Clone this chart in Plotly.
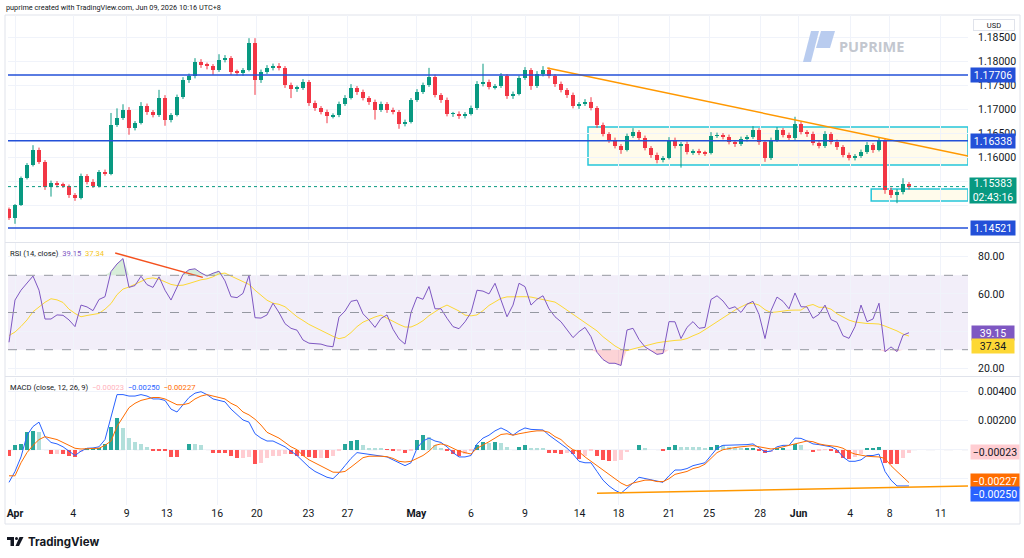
import plotly.graph_objects as go

W, H = 1024, 558

# ---------------- data ----------------
tick_labels = ["<b>Apr</b>", "4", "9", "13", "16", "20", "23", "27", "<b>May</b>", "6",
               "9", "14", "18", "21", "25", "28", "<b>Jun</b>", "4", "8", "11"]
tick_bars = [1.0, 10.7, 19.6, 26.3, 34.7, 41.3, 49.9, 56.4, 67.9, 77.0,
             86.0, 95.1, 101.6, 110.0, 116.7, 125.2, 131.6, 140.2, 146.8, 155.3]

first_open = 1.14917
close = [
    1.14729, 1.15000, 1.15563, 1.15833, 1.16146, 1.15896, 1.15375, 1.15458, 1.15417, 1.15396,
    1.15208, 1.15146, 1.15604, 1.15479, 1.15396, 1.15688, 1.15650, 1.16667, 1.16813, 1.16979,
    1.16604, 1.16708, 1.17063, 1.16938, 1.16875, 1.17229, 1.16771, 1.16875, 1.17250, 1.17604,
    1.17688, 1.17979, 1.17917, 1.17896, 1.17813, 1.18021, 1.18063, 1.17771, 1.17750, 1.17813,
    1.18375, 1.17604, 1.17771, 1.17854, 1.17896, 1.17854, 1.17500, 1.17417, 1.17438, 1.17563,
    1.17125, 1.17021, 1.16938, 1.16854, 1.16870, 1.17104, 1.17229, 1.17438, 1.17354, 1.17229,
    1.17146, 1.16979, 1.17104, 1.16979, 1.16938, 1.16688, 1.16729, 1.17188, 1.17354, 1.17500,
    1.17667, 1.17292, 1.17188, 1.16896, 1.16900, 1.16854, 1.16896, 1.17021, 1.17521, 1.17563,
    1.17458, 1.17479, 1.17688, 1.17271, 1.17313, 1.17646, 1.17813, 1.17479, 1.17729, 1.17813,
    1.17688, 1.17521, 1.17396, 1.17292, 1.17063, 1.17104, 1.17146, 1.17021, 1.16667, 1.16479,
    1.16354, 1.16229, 1.16146, 1.16438, 1.16521, 1.16396, 1.16188, 1.16042, 1.15938, 1.15979,
    1.16354, 1.16229, 1.16271, 1.16104, 1.16120, 1.16090, 1.16083, 1.16438, 1.16458, 1.16417,
    1.16313, 1.16271, 1.16375, 1.16417, 1.16563, 1.16313, 1.15979, 1.16354, 1.16563, 1.16458,
    1.16396, 1.16688, 1.16521, 1.16479, 1.16292, 1.16229, 1.16479, 1.16313, 1.16208, 1.16042,
    1.15979, 1.16021, 1.16104, 1.16250, 1.16146, 1.16354, 1.15313, 1.15208, 1.15271, 1.15438,
    1.15383]

# wick lengths beyond the body, in pips
upper_wick_pips = [
    3, 2, 3, 4, 10, 5, 4, 5, 4, 5,
    3, 4, 5, 4, 6, 4, 5, 25, 20, 12,
    6, 4, 8, 5, 4, 17, 6, 4, 5, 6,
    5, 8, 6, 5, 4, 12, 6, 4, 5, 4,
    10, 10, 5, 6, 5, 6, 4, 5, 5, 6,
    4, 5, 4, 5, 4, 5, 6, 8, 4, 5,
    4, 5, 5, 4, 5, 4, 5, 4, 6, 5,
    19, 5, 4, 5, 4, 5, 4, 5, 6, 38,
    5, 4, 6, 4, 5, 5, 6, 4, 6, 8,
    5, 4, 5, 4, 5, 4, 6, 10, 4, 5,
    4, 5, 4, 5, 8, 4, 5, 4, 5, 4,
    6, 5, 4, 5, 4, 5, 4, 8, 5, 4,
    5, 4, 5, 4, 8, 4, 4, 5, 6, 4,
    5, 15, 5, 4, 5, 4, 6, 4, 5, 4,
    5, 4, 5, 6, 4, 6, 4, 5, 6, 12,
    4]
lower_wick_pips = [
    4, 12, 2, 3, 3, 4, 6, 20, 5, 4,
    6, 6, 3, 5, 4, 3, 4, 3, 4, 4,
    14, 5, 3, 6, 5, 4, 12, 5, 3, 4,
    6, 5, 6, 7, 10, 4, 5, 6, 5, 6,
    3, 31, 6, 4, 5, 5, 6, 19, 6, 4,
    6, 6, 5, 15, 5, 4, 4, 3, 6, 5,
    6, 20, 4, 6, 5, 10, 5, 3, 4, 4,
    4, 5, 6, 5, 6, 6, 5, 3, 4, 5,
    5, 5, 4, 6, 6, 3, 4, 8, 4, 5,
    5, 6, 5, 6, 5, 6, 4, 5, 6, 5,
    6, 5, 8, 3, 4, 6, 5, 6, 7, 5,
    3, 5, 45, 5, 6, 5, 6, 3, 4, 5,
    5, 6, 4, 5, 4, 6, 8, 4, 4, 5,
    6, 4, 5, 6, 5, 5, 4, 5, 6, 5,
    5, 5, 4, 4, 6, 3, 8, 6, 17, 5,
    6]

rsi = [
    34.0, 56.7, 62.0, 66.0, 69.6, 62.0, 46.5, 46.5, 48.7, 48.5,
    46.0, 42.4, 54.0, 53.0, 51.0, 57.0, 58.5, 72.0, 76.1, 79.0,
    63.5, 64.5, 69.5, 65.0, 63.5, 69.2, 62.0, 56.7, 63.9, 70.5,
    73.0, 73.5, 71.3, 69.6, 71.1, 72.2, 67.0, 58.5, 58.0, 60.3,
    70.0, 47.2, 47.0, 48.7, 55.0, 50.0, 44.0, 41.5, 40.5, 35.2,
    33.5, 33.4, 33.0, 32.0, 31.6, 47.5, 50.8, 56.0, 56.7, 49.3,
    46.0, 42.0, 46.8, 48.7, 41.0, 35.8, 33.0, 50.0, 58.3, 57.1,
    64.0, 52.0, 52.0, 46.9, 42.4, 41.3, 45.0, 50.0, 62.0, 61.5,
    60.0, 65.7, 56.5, 47.7, 54.0, 65.7, 63.9, 54.0, 57.1, 59.0,
    52.0, 47.7, 45.0, 41.0, 36.5, 39.7, 42.0, 37.0, 28.6, 24.7,
    22.7, 22.7, 21.5, 40.6, 41.5, 35.5, 31.5, 29.5, 27.5, 28.0,
    45.1, 45.0, 36.0, 42.0, 45.1, 41.5, 42.0, 57.0, 59.0, 56.2,
    52.0, 53.1, 50.0, 54.5, 56.0, 49.0, 36.0, 51.0, 58.3, 56.0,
    52.0, 60.5, 53.1, 53.0, 46.9, 49.0, 54.0, 46.2, 44.7, 37.5,
    36.1, 42.4, 54.0, 45.1, 46.5, 55.0, 28.9, 31.5, 29.0, 37.8,
    39.15]
rsi_ma = [
    37.6, 39.5, 42.5, 46.0, 50.4, 53.2, 55.5, 57.4, 56.8, 55.4,
    51.8, 49.5, 47.7, 48.4, 48.9, 49.5, 51.8, 54.8, 59.6, 62.6,
    63.7, 65.2, 66.8, 68.2, 68.6, 67.9, 66.5, 65.1, 64.5, 64.7,
    65.6, 66.6, 67.6, 68.1, 69.2, 70.8, 71.2, 69.6, 68.2, 66.7,
    65.1, 62.0, 59.3, 56.6, 55.0, 54.4, 53.1, 50.5, 47.7, 45.7,
    43.6, 42.0, 40.3, 38.6, 37.2, 35.9, 36.7, 39.2, 42.4, 44.8,
    46.4, 47.6, 48.6, 46.8, 45.3, 43.6, 42.2, 42.2, 43.6, 45.6,
    48.3, 50.4, 52.5, 54.0, 52.4, 50.8, 48.6, 48.2, 48.7, 51.0,
    53.8, 55.6, 57.6, 58.4, 58.5, 58.5, 58.5, 58.3, 57.6, 56.9,
    56.4, 55.6, 53.5, 51.2, 48.8, 46.9, 44.5, 42.0, 40.1, 37.0,
    34.3, 32.0, 30.2, 29.5, 30.4, 31.3, 32.2, 33.0, 33.7, 34.2,
    34.7, 35.0, 35.2, 36.0, 37.5, 38.8, 40.8, 42.9, 44.9, 47.1,
    49.5, 51.3, 53.0, 54.6, 55.0, 54.0, 51.5, 50.0, 50.3, 50.8,
    51.2, 51.3, 51.3, 53.5, 54.3, 52.8, 52.8, 51.8, 49.3, 47.6,
    45.9, 44.9, 44.4, 44.1, 44.0, 43.8, 42.7, 41.6, 40.1, 38.4,
    37.34]

macd = [
    -0.00225, -0.0015, -0.0005, 0.0010, 0.0016, 0.0019, 0.0009, 0.0005, 0.0004, 0.0002,
    -0.0001, -0.0004, -0.0001, 0.0001, 0.00012, 0.0002, 0.0007, 0.0022, 0.0038, 0.0038,
    0.0037, 0.0037, 0.0038, 0.0037, 0.0035, 0.0035, 0.0034, 0.0028, 0.0026, 0.0031,
    0.0036, 0.0039, 0.0040, 0.0038, 0.0035, 0.0034, 0.0033, 0.0028, 0.0024, 0.00205,
    0.0019, 0.0011, 0.0008, 0.0006, 0.0006, 0.0004, 0.0002, -0.0001, -0.0004, -0.0008,
    -0.0012, -0.0015, -0.0017, -0.0019, -0.0020, -0.0016, -0.0011, -0.0006, -0.0002, -0.00025,
    -0.0003, -0.00035, -0.0004, -0.0005, -0.0007, -0.0009, -0.0011, -0.0009, 0.0001, 0.0006,
    0.0008, 0.0006, 0.0005, 0.0002, -0.0002, -0.0005, -0.0005, -0.0004, 0.0004, 0.0008,
    0.0010, 0.0013, 0.0015, 0.0013, 0.0010, 0.0013, 0.0015, 0.0014, 0.00136, 0.00136,
    0.0010, 0.0007, 0.0004, 0.0001, -0.0003, -0.0008, -0.0009, -0.0009, -0.0015, -0.0021,
    -0.0025, -0.0028, -0.0030, -0.00266, -0.0023, -0.0019, -0.0020, -0.0021, -0.0022, -0.00225,
    -0.0018, -0.0014, -0.0014, -0.0013, -0.0011, -0.0010, -0.0009, -0.0004, 0.0001, 0.0003,
    0.0003, 0.0003, 0.0003, 0.00035, 0.0004, 0.0001, -0.00015, -0.0001, 0.0002, 0.0003,
    0.0003, 0.0008, 0.00078, 0.0006, 0.0004, 0.00035, 0.0003, 0.0002, 0.0000, -0.0005,
    -0.0008, -0.0008, -0.0007, -0.0004, -0.0004, -0.0003, -0.0015, -0.0021, -0.0025, -0.0025,
    -0.0025]
signal = [
    -0.0018, -0.0018, -0.0009, -0.0002, 0.0003, 0.0007, 0.0009, 0.0008, 0.0007, 0.0005,
    0.0003, 0.0001, 0.00005, 0.00005, 0.00007, 0.0001, 0.0003, 0.0006, 0.0016, 0.0023,
    0.0029, 0.0032, 0.0034, 0.0035, 0.0036, 0.0036, 0.0035, 0.0033, 0.0031, 0.0031,
    0.0032, 0.0035, 0.0037, 0.0038, 0.0037, 0.0036, 0.0035, 0.0032, 0.0030, 0.0026,
    0.0024, 0.0021, 0.0017, 0.0012, 0.0010, 0.0008, 0.0005, 0.0002, 0.0000, -0.0004,
    -0.0007, -0.0009, -0.0011, -0.0013, -0.00155, -0.00156, -0.0015, -0.0012, -0.0009, -0.00055,
    -0.00045, -0.00043, -0.00045, -0.00048, -0.0006, -0.0008, -0.00085, -0.0008, -0.0006, -0.0004,
    -0.0001, 0.0003, 0.0004, 0.0003, 0.0001, -0.0001, -0.0002, -0.0003, 0.0001, 0.0003,
    0.00055, 0.0008, 0.00105, 0.0011, 0.0010, 0.0011, 0.0012, 0.00125, 0.0013, 0.0013,
    0.0012, 0.0009, 0.0007, 0.0003, 0.0000, -0.00014, -0.0005, -0.0008, -0.0011, -0.0014,
    -0.0017, -0.0020, -0.0023, -0.0025, -0.0023, -0.0022, -0.0021, -0.0021, -0.0022, -0.0022,
    -0.0020, -0.0017, -0.0016, -0.0015, -0.0013, -0.0012, -0.0010, -0.0006, -0.0002, 0.0000,
    0.0001, 0.00015, 0.0002, 0.00025, 0.00028, 0.0002, 0.0001, 0.00005, 0.0001, 0.00018,
    0.0003, 0.0004, 0.00048, 0.0006, 0.00055, 0.0004, 0.00032, 0.00028, 0.00022, 0.0001,
    -0.00015, -0.0003, -0.0004, -0.00045, -0.00048, -0.0005, -0.0006, -0.0011, -0.0015, -0.0019,
    -0.00227]

levels = [1.17706, 1.16338, 1.14521]
last_price = 1.15383
countdown = "02:43:16"
# drawings (bar index, value)
price_trend = [(89.7, 1.17854), (159.83, 1.16021)]
range_box = [(96.5, 1.16625), (159.83, 1.15833)]
small_box = [(143.7, 1.15333), (159.83, 1.15083)]
rsi_trend = [(17.7, 82.0), (32.3, 68.9)]
macd_trend = [(98.0, -0.00301), (159.83, -0.00250)]

# ---------------- derived ----------------
n = len(close)
bars = list(range(n))
opens = [first_open] + close[:-1]
highs = [max(o, c) + u * 0.0001 for o, c, u in zip(opens, close, upper_wick_pips)]
lows = [min(o, c) - d * 0.0001 for o, c, d in zip(opens, close, lower_wick_pips)]
hist = [m - s for m, s in zip(macd, signal)]
hist_colors = []
for i, h in enumerate(hist):
    prev = hist[i - 1] if i > 0 else h
    if h >= 0:
        hist_colors.append("#26A69A" if h > prev else "#B2DFDB")
    else:
        hist_colors.append("#FFCDD2" if h > prev else "#FF5252")

XMIN, XMAX = -1 / 6, 159.8333
GREEN, RED = "#089981", "#F23645"
BLUE_LINE = "#2350D8"
FONT = "Roboto"


def px(x):
    return x / W


def py(y):
    return 1 - y / H


fig = go.Figure()

# price: wicks + bodies
candle_colors = [GREEN if c >= o else RED for o, c in zip(opens, close)]
for col in (GREEN, RED):
    wx, wy = [], []
    for i in bars:
        if candle_colors[i] == col:
            wx += [i, i, None]
            wy += [lows[i], highs[i], None]
    fig.add_trace(go.Scatter(x=wx, y=wy, mode="lines", line=dict(color=col, width=1),
                             yaxis="y", hoverinfo="skip"))
body_base = [min(o, c) for o, c in zip(opens, close)]
body_len = [max(abs(c - o), 0.00004) for o, c in zip(opens, close)]
fig.add_trace(go.Bar(x=bars, y=body_len, base=body_base, width=0.55,
                     marker=dict(color=candle_colors, line=dict(width=0)),
                     yaxis="y", hoverinfo="skip"))

# RSI
fig.add_trace(go.Scatter(x=bars, y=[70] * n, mode="lines", line=dict(width=0),
                         yaxis="y2", hoverinfo="skip"))
fig.add_trace(go.Scatter(x=bars, y=[max(r, 70) for r in rsi], mode="lines", line=dict(width=0),
                         fill="tonexty", fillcolor="rgba(76,175,80,0.22)", yaxis="y2", hoverinfo="skip"))
fig.add_trace(go.Scatter(x=bars, y=[30] * n, mode="lines", line=dict(width=0),
                         yaxis="y2", hoverinfo="skip"))
fig.add_trace(go.Scatter(x=bars, y=[min(r, 30) for r in rsi], mode="lines", line=dict(width=0),
                         fill="tonexty", fillcolor="rgba(242,54,69,0.22)", yaxis="y2", hoverinfo="skip"))
fig.add_trace(go.Scatter(x=bars, y=rsi_ma, mode="lines", line=dict(color="#FDD835", width=1),
                         yaxis="y2", hoverinfo="skip"))
fig.add_trace(go.Scatter(x=bars, y=rsi, mode="lines", line=dict(color="#7E57C2", width=1),
                         yaxis="y2", hoverinfo="skip"))
fig.add_trace(go.Scatter(x=[p[0] for p in rsi_trend], y=[p[1] for p in rsi_trend], mode="lines",
                         line=dict(color="#F4511E", width=1.5), yaxis="y2", hoverinfo="skip"))

# MACD
fig.add_trace(go.Bar(x=bars, y=hist, marker=dict(color=hist_colors, line=dict(width=0)),
                     width=0.62, yaxis="y3", hoverinfo="skip"))
fig.add_trace(go.Scatter(x=bars, y=macd, mode="lines", line=dict(color="#2962FF", width=1),
                         yaxis="y3", hoverinfo="skip"))
fig.add_trace(go.Scatter(x=bars, y=signal, mode="lines", line=dict(color="#FF6D00", width=1),
                         yaxis="y3", hoverinfo="skip"))
fig.add_trace(go.Scatter(x=[p[0] for p in macd_trend], y=[p[1] for p in macd_trend], mode="lines",
                         line=dict(color="#FF9800", width=1.5), yaxis="y3", hoverinfo="skip"))
fig.add_trace(go.Scatter(x=[p[0] for p in price_trend], y=[p[1] for p in price_trend], mode="lines",
                         line=dict(color="#FF9800", width=1.5), yaxis="y", hoverinfo="skip"))

shapes = []
# chart frame & pane separators
shapes.append(dict(type="rect", xref="paper", yref="paper", x0=px(5), x1=px(1020), y0=py(15), y1=py(524),
                   line=dict(color="#E0E3EB", width=1), layer="below"))
for yy in (242.5, 376.5):
    shapes.append(dict(type="line", xref="paper", yref="paper", x0=px(5), x1=px(1020), y0=py(yy), y1=py(yy),
                       line=dict(color="#E0E3EB", width=1)))
# rsi band
shapes.append(dict(type="rect", xref="x", yref="y2", x0=XMIN, x1=XMAX, y0=30, y1=70,
                   fillcolor="rgba(126,87,194,0.10)", line=dict(width=0), layer="below"))
for lv in (70, 50, 30):
    shapes.append(dict(type="line", xref="x", yref="y2", x0=XMIN, x1=XMAX, y0=lv, y1=lv,
                       line=dict(color="#9598A1", width=1, dash="dash")))
# macd zero line
shapes.append(dict(type="line", xref="x", yref="y3", x0=XMIN, x1=XMAX, y0=0, y1=0,
                   line=dict(color="#D1D4DC", width=1, dash="dash"), layer="below"))
# boxes
for b in (range_box, small_box):
    shapes.append(dict(type="rect", xref="x", yref="y", x0=b[0][0], x1=b[1][0], y0=b[0][1], y1=b[1][1],
                       fillcolor="rgba(255,241,190,0.30)", line=dict(color="#26C6DA", width=1.5), layer="below"))
# horizontal levels
for lv in levels:
    shapes.append(dict(type="line", xref="x", yref="y", x0=XMIN, x1=XMAX, y0=lv, y1=lv,
                       line=dict(color=BLUE_LINE, width=1.5)))
shapes.append(dict(type="line", xref="x", yref="y", x0=XMIN, x1=XMAX, y0=last_price, y1=last_price,
                   line=dict(color=GREEN, width=1, dash="dot")))
# PUPRIME watermark logo
shapes.append(dict(type="path", xref="paper", yref="paper",
                   path=f"M{px(803)},{py(62)} L{px(811)},{py(31)} L{px(819)},{py(31)} L{px(811)},{py(62)} Z",
                   fillcolor="#B9CCEF", line=dict(width=0)))
shapes.append(dict(type="path", xref="paper", yref="paper",
                   path=f"M{px(821)},{py(31)} L{px(835)},{py(31)} L{px(830)},{py(48)} L{px(816)},{py(48)} Z",
                   fillcolor="#B9CCEF", line=dict(width=0)))
# TradingView logo glyph
shapes.append(dict(type="path", xref="paper", yref="paper",
                   path=f"M{px(7)},{py(537)} L{px(14)},{py(537)} L{px(14)},{py(546)} L{px(10.5)},{py(546)} "
                        f"L{px(10.5)},{py(540)} L{px(7)},{py(540)} Z",
                   fillcolor="#131722", line=dict(width=0)))
shapes.append(dict(type="circle", xref="paper", yref="paper", x0=px(15), x1=px(18), y0=py(540), y1=py(537),
                   fillcolor="#131722", line=dict(width=0)))
shapes.append(dict(type="path", xref="paper", yref="paper",
                   path=f"M{px(19.5)},{py(537)} L{px(23.5)},{py(537)} L{px(19)},{py(546)} L{px(15.5)},{py(546)} Z",
                   fillcolor="#131722", line=dict(width=0)))

ann = []


def label(y, text, bg, fg="#FFFFFF", h=14, w=44, x=993):
    ann.append(dict(xref="paper", yref="paper", x=px(x), y=py(y), text=text, showarrow=False,
                    bgcolor=bg, font=dict(color=fg, size=10.5, family=FONT), width=w, height=h,
                    borderpad=0, xanchor="center", yanchor="middle", align="center"))


label(75, "1.17706", BLUE_LINE)
label(141, "1.16338", BLUE_LINE)
label(228, "1.14521", BLUE_LINE)
label(190.5, f"{last_price:.5f}<br>{countdown}", GREEN, h=25, w=46)
label(333, f"{rsi[-1]:.2f}", "#7E57C2", w=42)
label(345.5, f"{rsi_ma[-1]:.2f}", "#FDD835", fg="#131722", w=42)
label(452, f"\u2212{abs(hist[-1]):.5f}", "#FFCDD2", fg="#131722", w=48, x=995)
label(481, f"\u2212{abs(signal[-1]):.5f}", "#FF6D00", w=48, x=995)
label(493.5, f"\u2212{abs(macd[-1]):.5f}", "#2962FF", w=48, x=995)

ann.append(dict(xref="paper", yref="paper", x=px(994), y=py(24.5), text="USD", showarrow=False,
                xanchor="center", yanchor="middle",
                font=dict(size=7.5, color="#131722", family=FONT), bgcolor="#FFFFFF",
                bordercolor="#E0E3EB", borderwidth=1, width=40, height=10, borderpad=0))
ann.append(dict(xref="paper", yref="paper", x=px(4), y=py(7.5), xanchor="left", yanchor="middle",
                text="puprime created with TradingView.com, Jun 09, 2026 10:16 UTC+8", showarrow=False,
                font=dict(size=7.3, color="#131722", family=FONT)))
ann.append(dict(xref="paper", yref="paper", x=px(8), y=py(253), xanchor="left", yanchor="middle",
                text=f"RSI (14, close)  <span style='color:#7E57C2'>{rsi[-1]:.2f}</span>  "
                     f"<span style='color:#F5C518'>{rsi_ma[-1]:.2f}</span>",
                showarrow=False, font=dict(size=7.6, color="#131722", family=FONT)))
ann.append(dict(xref="paper", yref="paper", x=px(8), y=py(387), xanchor="left", yanchor="middle",
                text=f"MACD (close, 12, 26, 9)  <span style='color:#FFB3BD'>\u2212{abs(hist[-1]):.5f}</span>  "
                     f"<span style='color:#2962FF'>\u2212{abs(macd[-1]):.5f}</span>  "
                     f"<span style='color:#FF6D00'>\u2212{abs(signal[-1]):.5f}</span>",
                showarrow=False, font=dict(size=7.6, color="#131722", family=FONT)))
ann.append(dict(xref="paper", yref="paper", x=px(837), y=py(46), xanchor="left", yanchor="middle",
                text="<b>PUPRIME</b>", showarrow=False,
                font=dict(size=14.5, color="#C3C7CF", family="Open Sans")))
ann.append(dict(xref="paper", yref="paper", x=px(26), y=py(541.5), xanchor="left", yanchor="middle",
                text="<b>TradingView</b>", showarrow=False,
                font=dict(size=11.5, color="#131722", family="Inter")))

grid = "#F0F3FA"
axfont = dict(size=10.5, color="#131722", family=FONT)
price_ticks = [1.150, 1.155, 1.160, 1.165, 1.170, 1.175, 1.180, 1.185]
# labels hidden behind the last-price box
price_ticktext = ["" if v in (1.150, 1.155) else f"{v:.5f}" for v in price_ticks]

fig.update_layout(
    width=W, height=H, margin=dict(l=0, r=0, t=0, b=0),
    paper_bgcolor="#FFFFFF", plot_bgcolor="#FFFFFF", showlegend=False,
    bargap=0, barmode="overlay", hovermode=False,
    xaxis=dict(domain=[px(8), px(968)], range=[XMIN, XMAX], anchor="y3",
               tickvals=tick_bars, ticktext=tick_labels, tickfont=axfont,
               showgrid=True, gridcolor=grid, gridwidth=1, zeroline=False,
               showline=False, ticks="", fixedrange=True),
    yaxis=dict(domain=[py(240), py(15)], range=[1.142708, 1.189583], side="right", anchor="x",
               tickvals=price_ticks, ticktext=price_ticktext,
               tickfont=axfont, showgrid=True, gridcolor=grid, zeroline=False, ticks="",
               ticklabelstandoff=9),
    yaxis2=dict(domain=[py(375), py(243)], range=[16.4, 87.37], side="right", anchor="x",
                tickvals=[20, 40, 60, 80], ticktext=["20.00", "", "60.00", "80.00"],
                tickfont=axfont, showgrid=True, gridcolor=grid, zeroline=False, ticks="",
                ticklabelstandoff=9),
    yaxis3=dict(domain=[py(505), py(378)], range=[-0.003814, 0.004945], side="right", anchor="x",
                tickvals=[-0.002, 0, 0.002, 0.004],
                ticktext=["", "", "0.00200", "0.00400"],
                tickfont=axfont, showgrid=True, gridcolor=grid, zeroline=False, ticks="",
                ticklabelstandoff=9),
    shapes=shapes, annotations=ann,
)

fig.write_html("out.html", config={"displayModeBar": False})
